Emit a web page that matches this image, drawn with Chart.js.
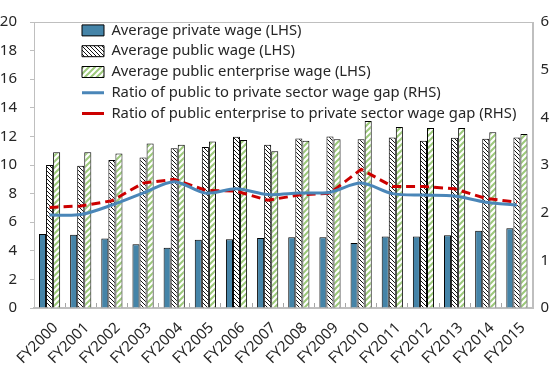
<!DOCTYPE html>
<html>
<head>
<meta charset="utf-8">
<script src="https://cdn.jsdelivr.net/npm/chart.js@4.4.1/dist/chart.umd.min.js"></script>
<style>
  html, body { margin: 0; padding: 0; background: #fff; }
</style>
</head>
<body>
<canvas id="wageChart" width="558" height="372"></canvas>
<script>
// fiscal years on the x axis
const years = ['FY2000', 'FY2001', 'FY2002', 'FY2003', 'FY2004', 'FY2005', 'FY2006', 'FY2007',
               'FY2008', 'FY2009', 'FY2010', 'FY2011', 'FY2012', 'FY2013', 'FY2014', 'FY2015'];

// wages (left axis)
const privateWage   = [5.17, 5.13, 4.86, 4.45, 4.22, 4.77, 4.81, 4.90, 4.95, 4.95, 4.54, 5.00, 5.00, 5.08, 5.40, 5.58];
const publicWage    = [10.00, 9.95, 10.35, 10.53, 11.17, 11.26, 11.98, 11.42, 11.85, 11.99, 11.80, 11.93, 11.69, 11.91, 11.84, 11.93];
const publicEntWage = [10.90, 10.90, 10.80, 11.50, 11.42, 11.64, 11.75, 10.96, 11.69, 11.80, 13.08, 12.66, 12.59, 12.59, 12.29, 12.16];

// ratios (right axis)
const publicRatio = [1.95, 1.96, 2.16, 2.41, 2.65, 2.41, 2.50, 2.38, 2.41, 2.43, 2.62, 2.40, 2.37, 2.35, 2.22, 2.16];
const entRatio    = [2.11, 2.14, 2.25, 2.62, 2.70, 2.47, 2.45, 2.26, 2.37, 2.41, 2.91, 2.55, 2.55, 2.50, 2.30, 2.22];

const leftTicks = [0, 2, 4, 6, 8, 10, 12, 14, 16, 18, 20];
const rightTicks = [0, 1, 2, 3, 4, 5, 6];

const FONT = '"Noto Sans", "Open Sans", sans-serif';
const TEXT = '#262626';
const AXIS = '#bfbfbf';

// dense black "\\\\" hatch
function darkHatch() {
    const c = document.createElement('canvas');
    c.width = 4; c.height = 4;
    const g = c.getContext('2d');
    g.fillStyle = '#fff';
    g.fillRect(0, 0, 4, 4);
    g.strokeStyle = '#111';
    g.lineWidth = 1;
    g.beginPath();
    g.moveTo(-1, -1); g.lineTo(5, 5);
    g.moveTo(-1, 3); g.lineTo(1, 5);
    g.moveTo(3, -1); g.lineTo(5, 1);
    g.stroke();
    return g.createPattern(c, 'repeat');
}

// light green "////" stripes
function greenStripes() {
    const c = document.createElement('canvas');
    c.width = 6; c.height = 6;
    const g = c.getContext('2d');
    g.fillStyle = '#fff';
    g.fillRect(0, 0, 6, 6);
    g.strokeStyle = '#9cc97a';
    g.lineWidth = 2;
    g.beginPath();
    g.moveTo(-1, 7); g.lineTo(7, -1);
    g.moveTo(-1, 1); g.lineTo(1, -1);
    g.moveTo(5, 7); g.lineTo(7, 5);
    g.stroke();
    return g.createPattern(c, 'repeat');
}

// grey frame around the plot area
const plotFrame = {
    id: 'plotFrame',
    afterDraw(chart) {
        const a = chart.chartArea, ctx = chart.ctx;
        ctx.save();
        ctx.strokeStyle = AXIS;
        ctx.lineWidth = 1;
        ctx.strokeRect(Math.round(a.left) + 0.5, Math.round(a.top) + 0.5,
                       Math.round(a.right - a.left), Math.round(a.bottom - a.top));
        ctx.restore();
    }
};

// put the legend in the upper left of the plot
const legendPlace = {
    id: 'legendPlace',
    afterLayout(chart) {
        const lg = chart.legend, a = chart.chartArea;
        const w = lg.width, h = lg.height;
        lg.left = a.left + 42;
        lg.top = a.top - 5;
        lg.right = lg.left + w;
        lg.bottom = lg.top + h;
    }
};

const barCommon = {
    type: 'bar',
    yAxisID: 'y',
    borderColor: '#000',
    borderWidth: 1,
    order: 1,
    pointStyle: 'rect'
};

new Chart(document.getElementById('wageChart'), {
    data: {
        labels: years,
        datasets: [
            { ...barCommon, label: 'Average private wage (LHS)', data: privateWage, backgroundColor: '#4584a8' },
            { ...barCommon, label: 'Average public wage (LHS)', data: publicWage, backgroundColor: darkHatch() },
            { ...barCommon, label: 'Average public enterprise wage (LHS)', data: publicEntWage, backgroundColor: greenStripes() },
            {
                type: 'line', yAxisID: 'y2', order: 0,
                label: 'Ratio of public to private sector wage gap (RHS)',
                data: publicRatio,
                borderColor: '#4a86b8', backgroundColor: '#4a86b8',
                borderWidth: 3, pointRadius: 0, tension: 0.3,
                pointStyle: 'line'
            },
            {
                type: 'line', yAxisID: 'y2', order: 0,
                label: 'Ratio of public enterprise to private sector wage gap (RHS)',
                data: entRatio,
                borderColor: '#cc0000', backgroundColor: '#cc0000',
                borderWidth: 3, borderDash: [9, 5], pointRadius: 0, tension: 0,
                pointStyle: 'line'
            }
        ]
    },
    options: {
        responsive: false,
        animation: false,
        layout: { padding: { top: 12, left: 0, right: 0, bottom: 0 } },
        datasets: {
            bar: { categoryPercentage: 0.68, barPercentage: 1 }
        },
        plugins: {
            tooltip: { enabled: false },
            legend: {
                position: 'chartArea',
                align: 'start',
                labels: {
                    usePointStyle: true,
                    pointStyleWidth: 22,
                    boxHeight: 11,
                    padding: 6,
                    color: TEXT,
                    font: { family: FONT, size: 14.8 },
                    sort: (a, b) => a.datasetIndex - b.datasetIndex
                }
            }
        },
        scales: {
            x: {
                // short ticks pointing up into the plot between categories
                grid: { drawOnChartArea: false, drawTicks: true, tickLength: -5, color: '#a6a6a6' },
                border: { color: AXIS, width: 1.5 },
                ticks: {
                    color: TEXT,
                    font: { family: FONT, size: 15 },
                    minRotation: 45, maxRotation: 45,
                    autoSkip: false, padding: 16, labelOffset: 6
                },
                afterFit: s => {
                    s.height = 64;
                    // rotated labels may hang past the edges; keep the plot width fixed
                    s.paddingLeft = 0;
                    s.paddingRight = 0;
                }
            },
            y: {
                position: 'left',
                min: 0, max: 20,
                afterBuildTicks: s => { s.ticks = leftTicks.map(v => ({ value: v })); },
                grid: { drawOnChartArea: false, tickLength: 4, color: AXIS },
                border: { color: AXIS },
                ticks: { color: TEXT, font: { family: FONT, size: 15 }, padding: 13 },
                afterFit: s => { s.width = 34; }
            },
            y2: {
                position: 'right',
                min: 0, max: 6,
                afterBuildTicks: s => { s.ticks = rightTicks.map(v => ({ value: v })); },
                grid: { drawOnChartArea: false, drawTicks: false },
                border: { color: AXIS },
                ticks: { color: TEXT, font: { family: FONT, size: 15 }, padding: 8 },
                afterFit: s => { s.width = 25.5; }
            }
        }
    },
    plugins: [plotFrame, legendPlace]
});
</script>
</body>
</html>
